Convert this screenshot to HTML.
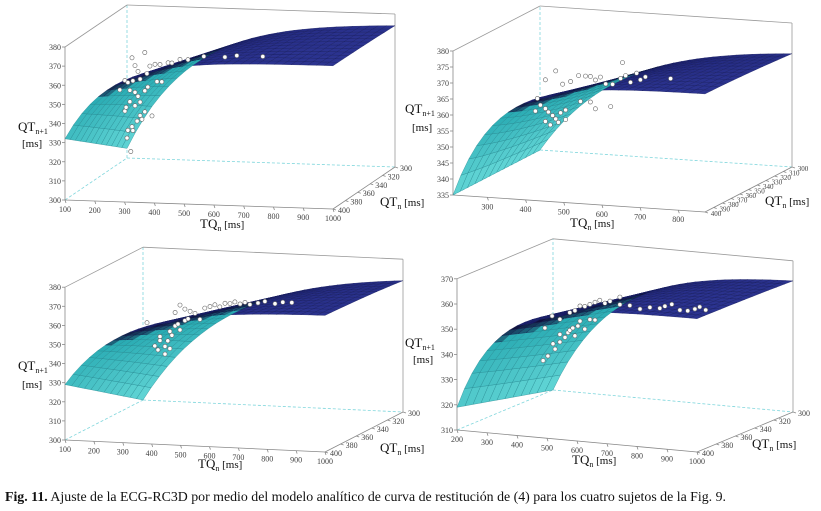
<!DOCTYPE html>
<html><head><meta charset="utf-8">
<style>
html,body{margin:0;padding:0;background:#fff;}
svg{display:block;font-family:"Liberation Serif",serif;}
</style></head>
<body>
<svg id="fig" width="821" height="511" viewBox="0 0 821 511" xmlns="http://www.w3.org/2000/svg">
<text x="5" y="501" font-size="13.5" fill="#111" textLength="721" lengthAdjust="spacingAndGlyphs"><tspan font-weight="bold">Fig. 11.</tspan> Ajuste de la ECG-RC3D por medio del modelo analítico de curva de restitución de (4) para los cuatro sujetos de la Fig. 9.</text>
</svg>
<script>
// ---- data (TQn, QTn+1) scatter per subject ----
const p1TQ=[221,264,231,241,248,271,281,298,315,342,355,382,409,462,533,573,660,197,207,224,214,231,241,197,214,231,248,264,274,248,238,221,254,264,288,207,224,204,217,305,321,180,201];
const p1QT=[364,367,360,357,353,356,360,361,361,362,362,364,364,366,366,367,367,352,351,352,347,346,344,336,341,339,341,347,349,334,331,328,332,336,334,326,326,322,315,352,352,347,338];
const p2TQ=[317,325,338,346,357,365,378,391,338,365,383,404,425,443,456,469,482,496,514,535,548,561,577,587,600,540,666,338,351,372,391,456,469,509,430,312];
const p2QT=[359,357,356,355,354,353,355,356,365,368,364,365,367,367,367,366,367,365,365,367,368,366,369,367,368,372,368,352,351,352,353,359,357,358,359,355];
const p3TQ=[249,294,311,276,287,321,328,335,346,356,363,380,391,346,363,380,398,415,432,449,467,484,501,519,536,553,571,588,605,633,657,692,719,750,311,328,294];
const p3QT=[352,345,340,340,338,343,348,346,351,352,349,354,355,358,362,360,359,358,355,361,362,363,362,364,364,365,364,365,364,365,366,365,366,366,336,339,343];
const p4TQ=[327,343,360,367,383,400,410,416,426,433,443,450,466,483,500,333,357,383,416,433,450,466,483,500,516,533,550,583,616,650,683,716,733,756,783,809,833,849,869,583,383];
const p4QT=[331,333,338,336,339,341,343,344,345,342,346,348,345,349,349,344,349,348,351,352,354,354,355,356,357,356,357,356,356,355,356,356,357,358,356,356,357,358,357,359,342];
// tick label arrays
const tq1Ticks=[100,200,300,400,500,600,700,800,900,1000];
const tq2Ticks=[300,400,500,600,700,800];
const tq4Ticks=[200,300,400,500,600,700,800,900,1000];
const z1Ticks=[300,310,320,330,340,350,360,370,380];
const z2Ticks=[335,340,345,350,355,360,365,370,375,380];
const z4Ticks=[310,320,330,340,350,360,370];
const qtTicksA=[300,320,340,360,380,400];
const qtTicksB=[300,310,320,330,340,350,360,370,380,390,400];

const NS="http://www.w3.org/2000/svg";
const svg=document.getElementById('fig');
function mk(tag,attrs,parent){const e=document.createElementNS(NS,tag);for(const k in attrs)e.setAttribute(k,attrs[k]);(parent||svg).appendChild(e);return e;}

const panels=[
 {id:'1',ox:65,oy:200,tmin:100,tmax:1000,tv:[268,9],qv:[62,-42],zmin:300,zmax:380,zs:153/80,z0f:332,z0b:305,zinf:375,tauF:150,tauB:218,tq:tq1Ticks,zt:z1Ticks,qt:qtTicksA,TQp:p1TQ,QTp:p1QT,
  lab:{qa:[18,131],qb:[22,147],tq:[200,228],qn:[380,206]}},
 {id:'2',ox:453,oy:195,tmin:210,tmax:870,tv:[252,17],qv:[87,-45],zmin:335,zmax:380,zs:3.2,z0f:335,z0b:335,zinf:372,tauF:110,tauB:210,tq:tq2Ticks,zt:z2Ticks,qt:qtTicksB,TQp:p2TQ,QTp:p2QT,
  lab:{qa:[405,113],qb:[412,131],tq:[570,227],qn:[765,205]}},
 {id:'3',ox:65,oy:440,tmin:100,tmax:1000,tv:[260,12],qv:[78,-40],zmin:300,zmax:380,zs:1.91,z0f:329,z0b:300,zinf:372,tauF:200,tauB:290,tq:tq1Ticks,zt:z1Ticks,qt:qtTicksA,TQp:p3TQ,QTp:p3QT,
  lab:{qa:[18,370],qb:[22,388],tq:[198,468],qn:[380,452]}},
 {id:'4',ox:457,oy:430,tmin:200,tmax:1000,tv:[240,22],qv:[96,-40],zmin:310,zmax:370,zs:2.52,z0f:319,z0b:310,zinf:363,tauF:130,tauB:200,tq:tq4Ticks,zt:z4Ticks,qt:qtTicksA,TQp:p4TQ,QTp:p4QT,
  lab:{qa:[405,347],qb:[413,363],tq:[572,464],qn:[752,448]}}
];

function lerp(a,b,f){return a+(b-a)*f;}
function col(c1,c2,f){f=Math.max(0,Math.min(1,f));return 'rgb('+[0,1,2].map(i=>Math.round(lerp(c1[i],c2[i],f))).join(',')+')';}

panels.forEach(c=>{
  const g=mk('g',{});
  
  
  const P=(t,q,z)=>{const u=(t-c.tmin)/(c.tmax-c.tmin),s=(400-q)/100;
    return [c.ox+u*c.tv[0]+s*c.qv[0], c.oy+u*c.tv[1]+s*c.qv[1]-(z-c.zmin)*c.zs];};
  const ln=(a,b,st,dash,name)=>{const l=mk('line',{x1:a[0],y1:a[1],x2:b[0],y2:b[1],stroke:st,'stroke-width':0.8},g);if(dash)l.setAttribute('stroke-dasharray',dash);
    
    };
  const zt=c.zmax;
  ln(P(c.tmin,300,c.zmin),P(c.tmin,300,zt),'#7fd6dc','3,2','back-left-edge');
  ln(P(c.tmin,400,c.zmin),P(c.tmin,300,c.zmin),'#7fd6dc','3,2','floor-left-edge');
  ln(P(c.tmin,300,c.zmin),P(c.tmax,300,c.zmin),'#7fd6dc','3,2','floor-back-edge');
  ln(P(c.tmin,400,c.zmin),P(c.tmin,400,zt),'#888',null,'z-axis');
  ln(P(c.tmin,400,zt),P(c.tmin,300,zt),'#999',null,'box-top-left');
  ln(P(c.tmin,300,zt),P(c.tmax,300,zt),'#999',null,'box-top-back');
  ln(P(c.tmax,300,zt),P(c.tmax,300,c.zmin),'#999',null,'box-right-back');
  ln(P(c.tmin,400,c.zmin),P(c.tmax,400,c.zmin),'#888',null,'tq-axis');
  ln(P(c.tmax,400,c.zmin),P(c.tmax,300,c.zmin),'#888',null,'qt-axis');
  const Zf=(t,q)=>{const s=(400-q)/100;const z0=lerp(c.z0f,c.z0b,s),tau=lerp(c.tauF,c.tauB,s);return c.zinf-(c.zinf-z0)*Math.exp(-(t-c.tmin)/tau);};
  const NT=32,NQ=12,zlow=Math.min(c.z0f,c.z0b);
  const sg=mk('g',{},g);
  
  
  for(let j=NQ-1;j>=0;j--){
    const q0=300+j*100/NQ,q1=300+(j+1)*100/NQ;
    for(let i=0;i<NT;i++){
      const t0=c.tmin+i*(c.tmax-c.tmin)/NT,t1=c.tmin+(i+1)*(c.tmax-c.tmin)/NT;
      const pts=[[t0,q0],[t1,q0],[t1,q1],[t0,q1]].map(a=>P(a[0],a[1],Zf(a[0],a[1])));
      const zm=(Zf(t0,q0)+Zf(t1,q1))/2;const f=(zm-zlow)/(c.zinf-zlow);
      let fill,str;
      if(f<0.7){fill=col([100,215,215],[40,170,178],f/0.7);str='#23878f';}
      else if(f<0.8){fill=col([30,110,130],[15,15,60],(f-0.7)/0.1);str='#101848';}
      else {fill=col([22,26,100],[44,52,145],(f-0.8)/0.2);str='#171c60';}
      const pg=mk('polygon',{points:pts.map(p=>p[0].toFixed(1)+','+p[1].toFixed(1)).join(' '),fill:fill,stroke:str,'stroke-width':0.35},sg);
      
      
    }
  }
  c.TQp.forEach((t,k)=>{const p=P(t,350,c.QTp[k]);
    const ci=mk('circle',{cx:p[0].toFixed(1),cy:p[1].toFixed(1),r:2.1,fill:'#fff',stroke:'#666','stroke-width':0.6},g);
    
    });
  const tx=(x,y,s,anchor,name,size)=>{const e=mk('text',{x:x,y:y,'font-size':size||8,fill:'#444','text-anchor':anchor||'middle'},g);e.textContent=s;
    
    return e;};
  c.zt.forEach(v=>{const p=P(c.tmin,400,v);ln([p[0]-3,p[1]],p,'#888',null,'z-tick');tx(p[0]-4,p[1]+3,v,'end','z-tick-label');});
  c.tq.forEach(v=>{const p=P(v,400,c.zmin);ln(p,[p[0]+1,p[1]+3],'#888',null,'tq-tick');tx(p[0],p[1]+12,v,'middle','tq-tick-label');});
  c.qt.forEach(v=>{const p=P(c.tmax,v,c.zmin);ln(p,[p[0]+3,p[1]+1],'#888',null,'qt-tick');tx(p[0]+11,p[1]+4,v,'middle','qt-tick-label',c.qt.length>6?7:8);});
  const L=c.lab;
  const t1=tx(L.qa[0],L.qa[1],'','start','z-axis-title',13);t1.setAttribute('fill','#111');
  t1.innerHTML='QT<tspan font-size="8" dy="3">n+1</tspan>';
  const t2=tx(L.qb[0],L.qb[1],'[ms]','start','z-axis-unit',11);t2.setAttribute('fill','#111');
  const t3=tx(L.tq[0],L.tq[1],'','start','tq-axis-title',13);t3.setAttribute('fill','#111');
  t3.innerHTML='TQ<tspan font-size="8" dy="3">n</tspan><tspan dy="-3" font-size="11"> [ms]</tspan>';
  const t4=tx(L.qn[0],L.qn[1],'','start','qt-axis-title',13);t4.setAttribute('fill','#111');
  t4.innerHTML='QT<tspan font-size="8" dy="3">n</tspan><tspan dy="-3" font-size="11"> [ms]</tspan>';
});
</script>
</body></html>
